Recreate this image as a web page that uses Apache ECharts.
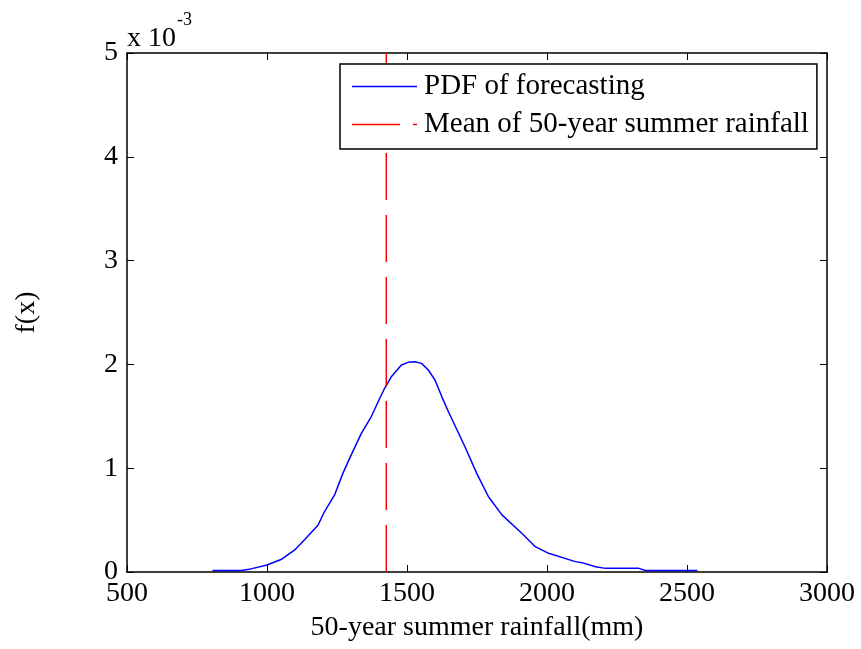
<!DOCTYPE html>
<html>
<head>
<meta charset="utf-8">
<script src="https://cdn.jsdelivr.net/npm/echarts@6/dist/echarts.min.js"></script>
<style>
  html, body { margin: 0; padding: 0; background: #fff; }
  #chart { width: 861px; height: 649px; }
</style>
</head>
<body>
<div id="chart"></div>
<script>
// rainfall (mm) and density (x 10^-3)
const rainfall = [805, 907, 943, 1000, 1050, 1098, 1134, 1182, 1205, 1241, 1271, 1295, 1337, 1373, 1397, 1420,
  1444, 1480, 1504, 1528, 1552, 1576, 1600, 1624, 1648, 1707, 1749, 1791, 1839, 1910, 1958, 2006,
  2101, 2125, 2173, 2209, 2328, 2352, 2537]
const density = [0.015, 0.015, 0.03, 0.067, 0.12, 0.21, 0.31, 0.45, 0.58, 0.74, 0.95, 1.095, 1.336, 1.50, 1.64, 1.77,
  1.88, 1.994, 2.02, 2.026, 2.01, 1.946, 1.85, 1.69, 1.544, 1.207, 0.95, 0.725, 0.55, 0.373, 0.244, 0.18,
  0.10, 0.09, 0.05, 0.035, 0.035, 0.015, 0.015]
const meanRainfall = 1426
const yRange = [0, 5]
const seriesNames = ['PDF of forecasting', 'Mean of 50-year summer rainfall']

const font = 'Liberation Serif'
const myChart = echarts.init(document.getElementById('chart'))

const axisCommon = {
  axisLine: { show: true, onZero: false, lineStyle: { color: '#000', width: 1.5 } },
  axisTick: { show: true, inside: true, length: 7, lineStyle: { color: '#000', width: 1 } },
  splitLine: { show: false }
}

const option = {
  animation: false,
  backgroundColor: '#fff',
  grid: { left: 127, top: 53, right: 34, bottom: 77 },
  legend: {
    orient: 'vertical',
    left: 340,
    top: 64,
    padding: [8, 8, 10, 12],
    itemGap: 9,
    itemWidth: 65,
    itemHeight: 1.5,
    borderColor: '#000',
    borderWidth: 1.5,
    backgroundColor: '#fff',
    textStyle: { fontFamily: font, fontSize: 29, lineHeight: 28, color: '#000', padding: [0, 0, 0, 2] },
    data: [
      { name: seriesNames[0], icon: 'path://M0,0h65v1.5h-65z' },
      { name: seriesNames[1], icon: 'path://M0,0h48v1.5h-48zM61,0h4v1.5h-4z' }
    ]
  },
  xAxis: [
    Object.assign({
      type: 'value', min: 500, max: 3000, interval: 500,
      name: '50-year summer rainfall(mm)', nameLocation: 'middle', nameGap: 42,
      nameTextStyle: { fontFamily: font, fontSize: 28, color: '#000' },
      axisLabel: { fontFamily: font, fontSize: 28, color: '#000', margin: 8, formatter: v => String(v) }
    }, axisCommon),
    Object.assign({
      type: 'value', min: 500, max: 3000, interval: 500, position: 'top',
      axisLabel: { show: false }
    }, axisCommon)
  ],
  yAxis: [
    Object.assign({
      type: 'value', min: yRange[0], max: yRange[1], interval: 1,
      name: 'f(x)', nameLocation: 'middle', nameGap: 86, nameRotate: 90,
      nameTextStyle: { fontFamily: font, fontSize: 28, color: '#000' },
      axisLabel: { fontFamily: font, fontSize: 28, color: '#000', margin: 9 }
    }, axisCommon),
    Object.assign({
      type: 'value', min: yRange[0], max: yRange[1], interval: 1, position: 'right',
      axisLabel: { show: false }
    }, axisCommon)
  ],
  graphic: [
    {
      type: 'text', left: 127, top: 25,
      style: { text: 'x 10', fontFamily: font, fontSize: 28, fill: '#000' }
    },
    {
      type: 'text', left: 177, top: 11,
      style: { text: '-3', fontFamily: font, fontSize: 18, fill: '#000' }
    }
  ],
  series: [
    {
      name: seriesNames[0],
      type: 'line',
      symbol: 'none',
      lineStyle: { color: '#0000ff', width: 1.5 },
      itemStyle: { color: '#0000ff' },
      data: rainfall.map((x, i) => [x, density[i]])
    },
    {
      name: seriesNames[1],
      type: 'line',
      symbol: 'none',
      lineStyle: { color: '#ff0000', width: 1.5, type: [47, 15] },
      itemStyle: { color: '#ff0000' },
      data: [[meanRainfall, yRange[0]], [meanRainfall, yRange[1]]]
    }
  ]
}

myChart.setOption(option)
</script>
</body>
</html>
